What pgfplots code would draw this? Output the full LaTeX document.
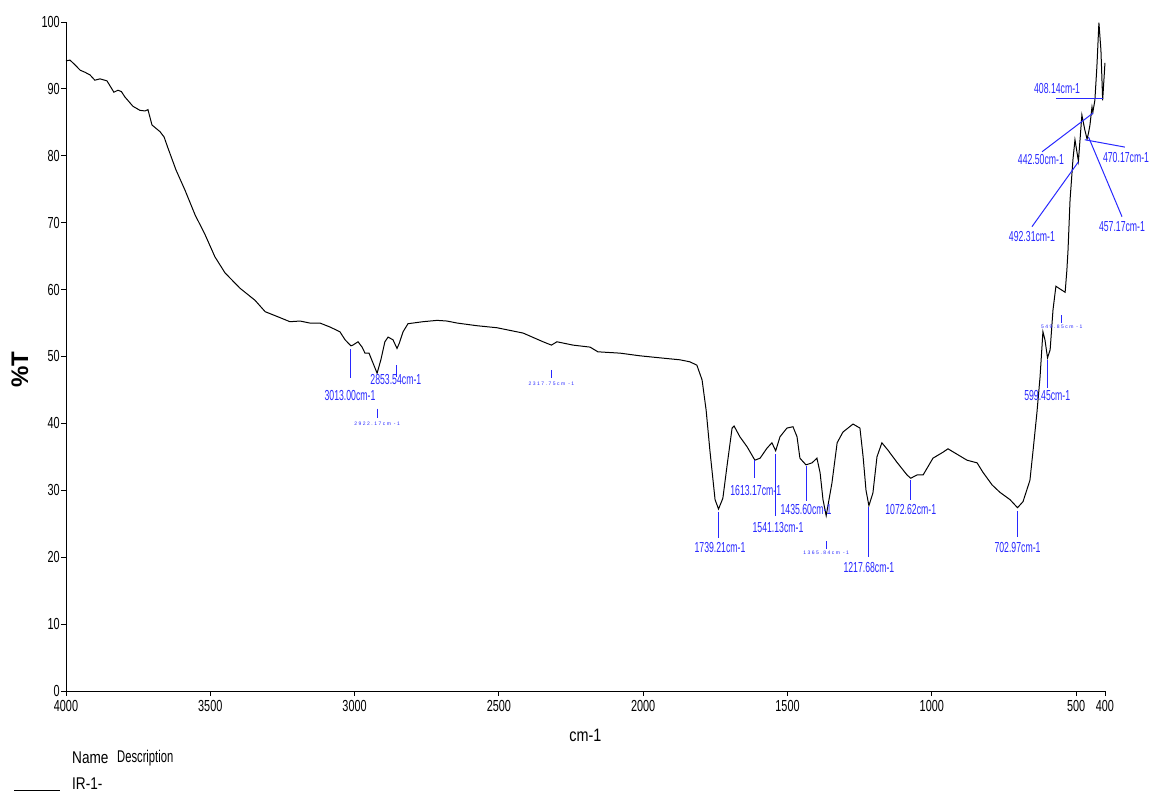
\documentclass[border=0pt]{standalone}
\usepackage{pgfplots}
\pgfplotsset{compat=1.18}
\usepackage{pgfplotstable}
\usepackage{fontspec}
\setmainfont{Liberation Sans}
\newfontfamily\tickfont[FakeStretch=0.68]{Liberation Sans}
\newfontfamily\annfont[FakeStretch=0.6]{Liberation Sans}
\newfontfamily\labfont[FakeStretch=0.8]{Liberation Sans}
\newfontfamily\legfont[FakeStretch=0.8]{Liberation Sans}
\newfontfamily\legfontb[FakeStretch=0.66]{Liberation Sans}
\newfontfamily\tinyfont[LetterSpace=30]{Liberation Sans}
\definecolor{annblue}{RGB}{40,40,255}
\tikzset{ann/.style={inner sep=0pt, text=annblue, font=\annfont\fontsize{14.5}{14.5}\selectfont},
         tiny/.style={inner sep=0pt, text=annblue, font=\tinyfont\fontsize{5}{5}\selectfont},
         aline/.style={draw=annblue, line width=1pt}}

\pgfplotstableread{
x y
4000 94.2
3986 94.3
3969 93.6
3951 92.8
3935 92.5
3917 92.1
3900 91.3
3882 91.5
3858 91.2
3834 89.5
3820 89.8
3808 89.6
3796 88.8
3768 87.4
3744 86.8
3726 86.7
3716 86.9
3702 84.6
3674 83.6
3660 82.8
3647 81.2
3619 77.9
3588 74.9
3553 71.2
3518 68.2
3484 64.9
3449 62.5
3397 60.2
3345 58.4
3310 56.7
3258 55.8
3224 55.2
3189 55.3
3155 55.0
3120 55.0
3085 54.4
3051 53.7
3033 52.5
3013 51.6
3006 51.7
2988 52.2
2974 51.4
2964 50.5
2950 50.5
2936 49.0
2922 47.5
2909 49.5
2895 52.2
2884 52.9
2867 52.5
2853 51.2
2845 52.0
2832 53.7
2815 54.9
2763 55.2
2714 55.4
2680 55.3
2645 55.0
2576 54.6
2507 54.3
2416 53.5
2347 52.2
2318 51.7
2299 52.2
2243 51.7
2184 51.4
2157 50.7
2080 50.5
2011 50.1
1942 49.8
1872 49.5
1838 49.2
1814 48.7
1796 46.5
1782 42.0
1769 36.0
1751 28.6
1739 27.2
1724 28.8
1710 33.5
1692 39.3
1685 39.6
1665 38.0
1640 36.5
1613 34.5
1595 34.8
1571 36.3
1554 37.1
1541 35.9
1526 38.0
1502 39.3
1481 39.5
1467 38.0
1457 34.8
1436 33.8
1415 34.1
1398 34.8
1387 32.6
1377 28.6
1366 26.2
1346 31.1
1328 37.1
1308 38.7
1273 39.9
1249 39.3
1238 35.0
1228 30.0
1218 27.7
1204 29.6
1190 35.0
1173 37.1
1152 36.0
1121 34.2
1086 32.3
1073 31.8
1051 32.3
1030 32.3
996 34.8
961 35.7
944 36.2
913 35.4
878 34.5
843 34.1
823 32.7
791 30.8
764 29.7
729 28.6
703 27.4
684 28.3
660 31.5
649 36.0
636 41.5
625 46.9
615 53.7
608 52.5
599 49.8
590 51.0
580 57.0
570 60.5
556 60.1
538 59.6
532 62.9
528 65.9
521 73.4
511 79.4
504 82.4
492 79.2
480 86.1
470 83.9
462 82.5
457 83.4
452 84.6
445 87.3
442 86.5
435 88.3
428 93.3
421 99.9
414 95.8
408 88.3
400 93.9
}\spectrum

\begin{document}
\begin{tikzpicture}
\path[use as bounding box] (0,0) rectangle (1149pt,794pt);
\begin{axis}[
  at={(66pt,103pt)}, anchor=south west,
  scale only axis, width=1039pt, height=669pt,
  x dir=reverse, xmin=400, xmax=4000, ymin=0, ymax=100,
  enlargelimits=false,
  axis x line*=bottom, axis y line*=left,
  axis line style={line width=0.9pt},
  tick align=outside, major tick length=5pt,
  tick style={black, line width=0.8pt},
  xtick={4000,3500,3000,2500,2000,1500,1000,500,400},
  ytick={0,10,20,30,40,50,60,70,80,90,100},
  minor tick num=0,
  /pgf/number format/1000 sep={},
  /pgf/number format/assume math mode=true,
  ticklabel style={font=\tickfont\fontsize{16}{16}\selectfont, inner sep=1pt},
  xticklabel style={yshift=-3pt},
  xlabel={cm-1},
  xlabel style={at={(rel axis cs:0.5,0)}, anchor=center, yshift=-44pt, font=\labfont\fontsize{18}{18}\selectfont},
  ylabel={\%T},
  ylabel style={at={(rel axis cs:0,0.48)}, anchor=center, yshift=46pt, font=\bfseries\fontsize{24}{24}\selectfont},
  clip=false,
]
\addplot[black, line width=1pt, mark=none] table[x=x, y=y] {\spectrum};

  \draw[aline] (axis cs:3013,51.1) -- (axis cs:3013,46.8);
  \node[ann] at (axis cs:3016,44.1) {3013.00cm-1};
  \draw[aline] (axis cs:2922,42.2) -- (axis cs:2922,40.8);
  \node[tiny] at (axis cs:2922,39.9) {2922.17cm -1};
  \draw[aline] (axis cs:2853.5,48.7) -- (axis cs:2853.5,46.9);
  \node[ann] at (axis cs:2857,46.6) {2853.54cm-1};
  \draw[aline] (axis cs:2317.75,48.0) -- (axis cs:2317.75,46.8);
  \node[tiny] at (axis cs:2318,45.9) {2317.75cm -1};
  \draw[aline] (axis cs:1739.2,26.8) -- (axis cs:1739.2,22.9);
  \node[ann] at (axis cs:1734,21.5) {1739.21cm-1};
  \draw[aline] (axis cs:1616,34.5) -- (axis cs:1616,31.8);
  \node[ann] at (axis cs:1610,29.9) {1613.17cm-1};
  \draw[aline] (axis cs:1541.1,35.4) -- (axis cs:1541.1,26.2);
  \node[ann] at (axis cs:1533,24.4) {1541.13cm-1};
  \draw[aline] (axis cs:1435.6,33.6) -- (axis cs:1435.6,28.4);
  \node[ann] at (axis cs:1436,27.1) {1435.60cm-1};
  \draw[aline] (axis cs:1365.8,22.4) -- (axis cs:1365.8,21.2);
  \node[tiny] at (axis cs:1366,20.6) {1365.84cm -1};
  \draw[aline] (axis cs:1217.7,27.5) -- (axis cs:1217.7,20.0);
  \node[ann] at (axis cs:1218,18.5) {1217.68cm-1};
  \draw[aline] (axis cs:1072.6,31.5) -- (axis cs:1072.6,28.6);
  \node[ann] at (axis cs:1073,27.1) {1072.62cm-1};
  \draw[aline] (axis cs:703,26.9) -- (axis cs:703,23.0);
  \node[ann] at (axis cs:703,21.5) {702.97cm-1};
  \draw[aline] (axis cs:599.5,49.5) -- (axis cs:599.5,45.3);
  \node[ann] at (axis cs:600,44.1) {599.45cm-1};
  \draw[aline] (axis cs:549.9,56.2) -- (axis cs:549.9,55.0);
  \node[tiny] at (axis cs:550,54.4) {549.85cm -1};
  \draw[aline] (axis cs:407,88.6) -- (axis cs:570,88.6);
  \node[ann] at (axis cs:566,90.0) {408.14cm-1};
  \draw[aline] (axis cs:441,86.4) -- (axis cs:618,80.6);
  \node[ann] at (axis cs:622,79.4) {442.50cm-1};
  \draw[aline] (axis cs:470,82.4) -- (axis cs:331,81.3);
  \node[ann] at (axis cs:327,79.8) {470.17cm-1};
  \draw[aline] (axis cs:457,82.8) -- (axis cs:341,70.9);
  \node[ann] at (axis cs:341,69.4) {457.17cm-1};
  \draw[aline] (axis cs:492,79.1) -- (axis cs:653,69.4);
  \node[ann] at (axis cs:653,67.9) {492.31cm-1};
\end{axis}

\node[anchor=west, inner sep=0pt, font=\legfont\fontsize{17}{17}\selectfont] at (72pt,36pt) {Name};
\node[anchor=west, inner sep=0pt, font=\legfontb\fontsize{17}{17}\selectfont] at (117pt,36pt) {Description};
\node[anchor=west, inner sep=0pt, font=\legfont\fontsize{17}{17}\selectfont] at (72pt,10pt) {IR-1-};
\draw[black, line width=0.8pt] (14pt,4pt) -- (60pt,4pt);
\end{tikzpicture}
\end{document}
